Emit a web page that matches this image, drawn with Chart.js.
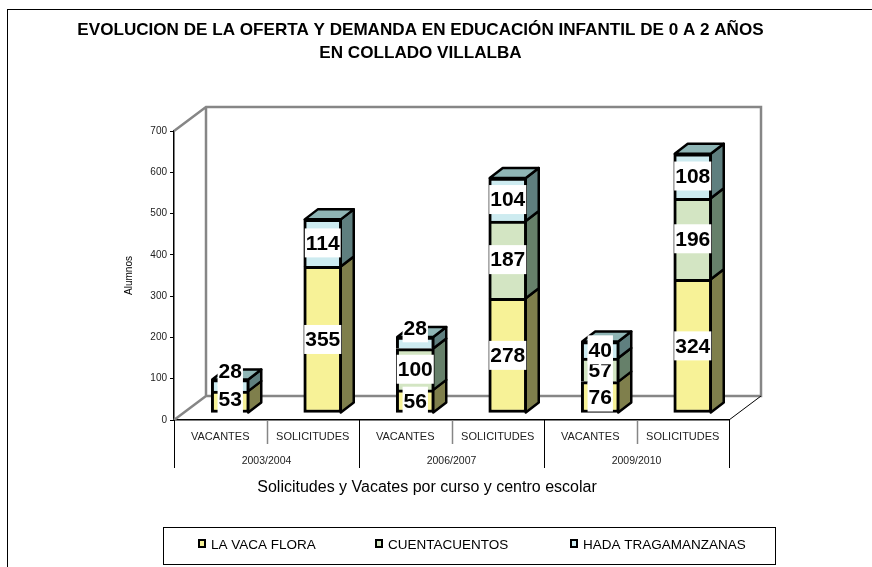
<!DOCTYPE html>
<html>
<head>
<meta charset="utf-8">
<script src="https://cdn.jsdelivr.net/npm/chart.js@4"></script>
<style>
    html, body { margin: 0; padding: 0; background: #fff; overflow: hidden; }
    #frame { position: absolute; left: 7px; top: 9px; right: 0; bottom: 0; border-left: 1px solid #000; border-top: 1px solid #000; }
    #chart-box { position: absolute; left: 0; top: 0; width: 872px; height: 567px; }
</style>
</head>
<body>
<div id="frame"></div>
<div id="chart-box"><canvas id="chart"></canvas></div>
<script>
var categories = ['VACANTES', 'SOLICITUDES', 'VACANTES', 'SOLICITUDES', 'VACANTES', 'SOLICITUDES'];
var years = ['2003/2004', '2006/2007', '2009/2010'];
var vacaFlora = [53, 355, 56, 278, 76, 324];
var cuentacuentos = [null, null, 100, 187, 57, 196];
var hadaTragamanzanas = [28, 114, 28, 104, 40, 108];
var yTicks = [0, 100, 200, 300, 400, 500, 600, 700];

var titleLines = ['EVOLUCION DE LA OFERTA Y DEMANDA EN EDUCACIÓN INFANTIL DE 0 A 2 AÑOS', 'EN COLLADO VILLALBA'];
var xTitle = 'Solicitudes y Vacates por curso y centro escolar';

// bars sit a bit inside the 3d floor, not on the axis line
var barShift = { x: 10, y: -7 };
var depth = { x: 13, y: -10 };
var wall = { x: 32, y: -24 };
// labels that excel pushed up so they dont overlap
var labelLift = { '0:0': 3, '2:0': 14, '2:2': 15 };

var sideColors = ['#7f7f4c', '#66806a', '#5f7f7f'];
var topColor = '#8fb5b5';

var chart3d = {
    id: 'chart3d',
    afterLayout: function(chart) {
        // title is centred on the whole figure, not the plot
        chart.titleBlock.left = 0;
        chart.titleBlock.right = 841;
    },
    beforeDatasetsDraw: function(chart) {
        var ctx = chart.ctx;
        var a = chart.chartArea;
        // back walls
        ctx.save();
        ctx.strokeStyle = '#868686';
        ctx.lineWidth = 2.5;
        ctx.beginPath();
        ctx.moveTo(a.left, a.top);
        ctx.lineTo(a.left + wall.x, a.top + wall.y);
        ctx.lineTo(a.right + wall.x, a.top + wall.y);
        ctx.lineTo(a.right + wall.x, a.bottom + wall.y);
        ctx.lineTo(a.left + wall.x, a.bottom + wall.y);
        ctx.lineTo(a.left + wall.x, a.top + wall.y);
        ctx.moveTo(a.left + wall.x, a.bottom + wall.y);
        ctx.lineTo(a.left, a.bottom);
        ctx.stroke();
        ctx.lineWidth = 1;
        ctx.strokeStyle = '#000';
        ctx.beginPath();
        ctx.moveTo(a.right, a.bottom);
        ctx.lineTo(a.right + wall.x, a.bottom + wall.y);
        ctx.stroke();
        ctx.restore();

        ctx.save();
        ctx.translate(barShift.x, barShift.y);
    },
    afterDatasetsDraw: function(chart) {
        var ctx = chart.ctx;
        var last = chart.data.datasets.length - 1;
        chart.data.datasets.forEach(function(ds, d) {
            chart.getDatasetMeta(d).data.forEach(function(bar, i) {
                if (ds.data[i] === null) return;
                var right = bar.x + bar.width / 2 - 1;
                var left = bar.x - bar.width / 2 + 1;
                ctx.lineWidth = 2.5;
                ctx.strokeStyle = '#000';
                ctx.lineJoin = 'round';
                ctx.fillStyle = sideColors[d];
                ctx.beginPath();
                ctx.moveTo(right, bar.y);
                ctx.lineTo(right + depth.x, bar.y + depth.y);
                ctx.lineTo(right + depth.x, bar.base + depth.y);
                ctx.lineTo(right, bar.base);
                ctx.closePath();
                ctx.fill();
                ctx.stroke();
                if (d === last) {
                    ctx.fillStyle = topColor;
                    ctx.beginPath();
                    ctx.moveTo(left, bar.y);
                    ctx.lineTo(left + depth.x, bar.y + depth.y);
                    ctx.lineTo(right + depth.x, bar.y + depth.y);
                    ctx.lineTo(right, bar.y);
                    ctx.closePath();
                    ctx.fill();
                    ctx.stroke();
                }
            });
        });
        // value labels on white boxes
        ctx.font = 'bold 21px "Liberation Sans"';
        ctx.textAlign = 'center';
        ctx.textBaseline = 'middle';
        chart.data.datasets.forEach(function(ds, d) {
            chart.getDatasetMeta(d).data.forEach(function(bar, i) {
                if (ds.data[i] === null) return;
                var txt = String(ds.data[i]);
                var y = (bar.y + bar.base) / 2 - (labelLift[d + ':' + i] || 0);
                var w = ctx.measureText(txt).width + 2;
                ctx.fillStyle = '#fff';
                ctx.fillRect(bar.x - w / 2, y - 14.5, w, 29);
                ctx.fillStyle = '#000';
                ctx.fillText(txt, bar.x, y + 1);
            });
        });
        ctx.restore();
    },
    afterDraw: function(chart) {
        var ctx = chart.ctx;
        var a = chart.chartArea;
        var x = chart.scales.x;
        var step = (a.right - a.left) / categories.length;
        ctx.save();
        // separators of the two level category axis
        for (var i = 0; i <= categories.length; i++) {
            var group = i % 2 === 0;
            var px = Math.round(x.left + step * i) + 0.5;
            ctx.strokeStyle = group ? '#000' : '#868686';
            ctx.lineWidth = group ? 1 : 1.5;
            ctx.beginPath();
            ctx.moveTo(px, a.bottom);
            ctx.lineTo(px, a.bottom + (group ? 48 : 24));
            ctx.stroke();
        }

        ctx.fillStyle = '#000';
        ctx.font = '16px "Liberation Sans"';
        ctx.textAlign = 'center';
        ctx.textBaseline = 'middle';
        ctx.fillText(xTitle, 427, 488);

        // legend box
        ctx.strokeStyle = '#000';
        ctx.lineWidth = 1;
        ctx.strokeRect(163.5, 527.5, 612, 37);
        var legendX = [198, 375, 570];
        ctx.font = '13.5px "Liberation Sans"';
        ctx.textAlign = 'left';
        chart.data.datasets.forEach(function(ds, d) {
            ctx.fillStyle = ds.backgroundColor;
            ctx.lineWidth = 2;
            ctx.fillRect(legendX[d] + 1, 540, 6, 7);
            ctx.strokeRect(legendX[d] + 1, 540, 6, 7);
            ctx.fillStyle = '#000';
            ctx.fillText(ds.label, legendX[d] + 13, 545);
        });
        ctx.restore();
    }
};

new Chart(document.getElementById('chart'), {
    type: 'bar',
    data: {
        labels: categories,
        datasets: [
            { label: 'LA VACA FLORA', data: vacaFlora, backgroundColor: '#f7f297' },
            { label: 'CUENTACUENTOS', data: cuentacuentos, backgroundColor: '#d3e5c3' },
            { label: 'HADA TRAGAMANZANAS', data: hadaTragamanzanas, backgroundColor: '#cdebf0' }
        ].map(function(ds, d) {
            ds.borderColor = '#000';
            // only the lowest segment gets a bottom edge, or the dividers come out double
            ds.borderWidth = { top: 3, left: 3, right: 3, bottom: d === 0 ? 3 : 0 };
            ds.borderSkipped = false;
            ds.barThickness = 38;
            ds.clip = false;
            return ds;
        })
    },
    options: {
        responsive: true,
        maintainAspectRatio: false,
        animation: false,
        layout: { padding: { left: 0, right: 143, top: 0, bottom: 99 } },
        plugins: {
            legend: { display: false },
            tooltip: { enabled: false },
            title: {
                display: true,
                text: titleLines,
                color: '#000',
                font: { family: '"Liberation Sans"', size: 17.1, weight: 'bold', lineHeight: 23 / 17.1 },
                padding: { top: 18.5, bottom: 66.5 }
            }
        },
        scales: {
            x: {
                stacked: true,
                grid: { display: false },
                border: { color: '#000', width: 1.5 },
                ticks: { color: '#222', maxRotation: 0, autoSkip: false, padding: 2, font: { family: '"Liberation Sans"', size: 11 } },
                afterFit: function(scale) { scale.height = 24; }
            },
            xYears: {
                type: 'category',
                labels: years,
                position: 'bottom',
                grid: { display: false },
                border: { display: false },
                ticks: { color: '#222', maxRotation: 0, autoSkip: false, padding: 3, font: { family: '"Liberation Sans"', size: 10.5 } },
                afterFit: function(scale) { scale.height = 24; }
            },
            y: {
                stacked: true,
                min: 0,
                max: 700,
                afterBuildTicks: function(scale) {
                    scale.ticks = yTicks.map(function(v) { return { value: v }; });
                },
                grid: { drawOnChartArea: false, color: '#000', tickLength: 4 },
                border: { color: '#000', width: 1.5 },
                ticks: { color: '#222', padding: 3, font: { family: '"Liberation Sans"', size: 10 } },
                title: {
                    display: true,
                    text: 'Alumnos',
                    color: '#000',
                    padding: { top: 123, bottom: 0 },
                    font: { family: '"Liberation Sans"', size: 10 }
                },
                afterFit: function(scale) { scale.width = 174; }
            }
        }
    },
    plugins: [chart3d]
});
</script>
</body>
</html>
